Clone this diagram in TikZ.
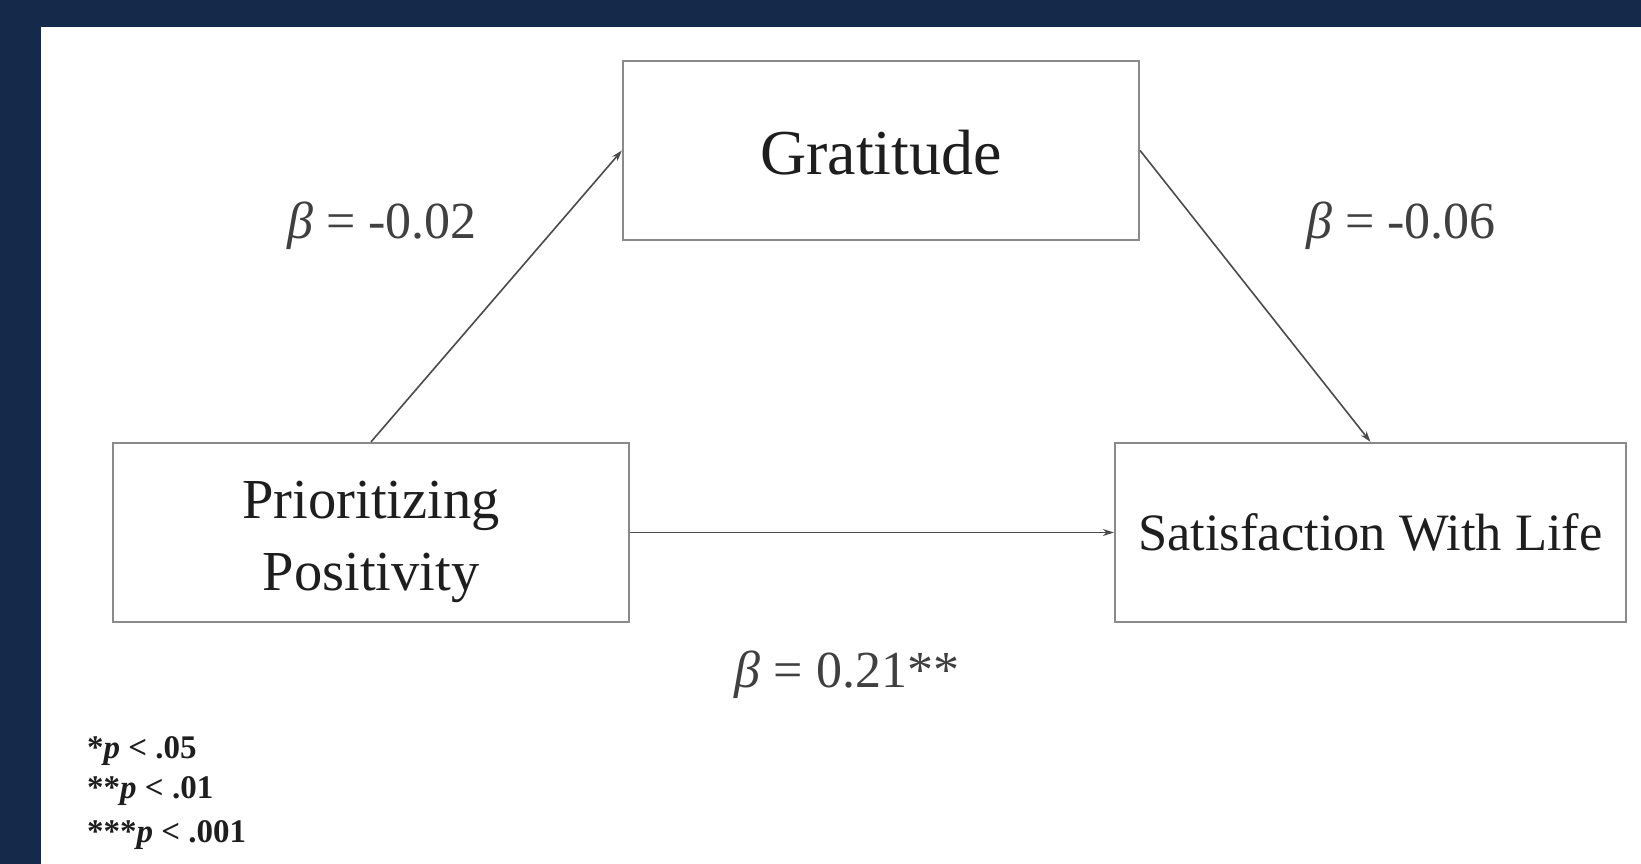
\documentclass[tikz,border=0pt]{standalone}
\usepackage{fontspec}
\setmainfont{Liberation Serif}
\usetikzlibrary{arrows.meta}
\definecolor{navy}{HTML}{15294B}
\definecolor{boxgray}{HTML}{8A8A8A}
\definecolor{linegray}{HTML}{4A4A4A}
\definecolor{txt}{HTML}{1E1E1E}
\tikzset{
  varbox/.style={draw=boxgray, line width=2.2pt, rectangle, minimum height=179pt, text=txt, align=center, inner sep=0pt},
  link/.style={draw=linegray, line width=1.6pt, -{Stealth[length=11pt,width=7pt]}},
  beta/.style={text=txt!85, font=\fontsize{52}{58}\selectfont},
  note/.style={anchor=west, text=txt, font=\bfseries\fontsize{33}{38}\selectfont, inner sep=0pt},
}
\begin{document}
\begin{tikzpicture}[x=1pt,y=-1pt]
\useasboundingbox (0,0) rectangle (1641,864);
\fill[navy] (0,0) rectangle (1641,864);
\fill[white] (41,27) rectangle (1641,864);

\node[varbox, minimum width=516pt, font=\fontsize{64}{70}\selectfont] (grat) at (881,150.5) {\raisebox{0pt}[\dimexpr\height+5pt\relax]{Gratitude}};
\node[varbox, minimum width=516pt, font=\fontsize{56.5}{72}\selectfont] (prio) at (371,532.5) {\raisebox{0pt}[\dimexpr\height+15pt\relax]{\begin{tabular}{@{}c@{}}Prioritizing\\Positivity\end{tabular}}};
\node[varbox, minimum width=511pt, font=\fontsize{52.5}{60}\selectfont] (swl) at (1370.5,532.5) {Satisfaction With Life};

\draw[link] (prio.north) -- (grat.west);
\draw[link] (grat.east) -- (swl.north);
\draw[link] (prio.east) -- (swl.west);

\node[beta] (b1) at (382,226) {{\itshape β} = -0.02};
\node[beta] (b2) at (1401,226) {{\itshape β} = -0.06};
\node[beta] (b3) at (847,675) {{\itshape β} = 0.21**};

\node[note] (n1) at (87,751) {*{\itshape p} < .05};
\node[note] (n2) at (87,791) {**{\itshape p} < .01};
\node[note] (n3) at (87,835) {***{\itshape p} < .001};
\end{tikzpicture}
\end{document}
